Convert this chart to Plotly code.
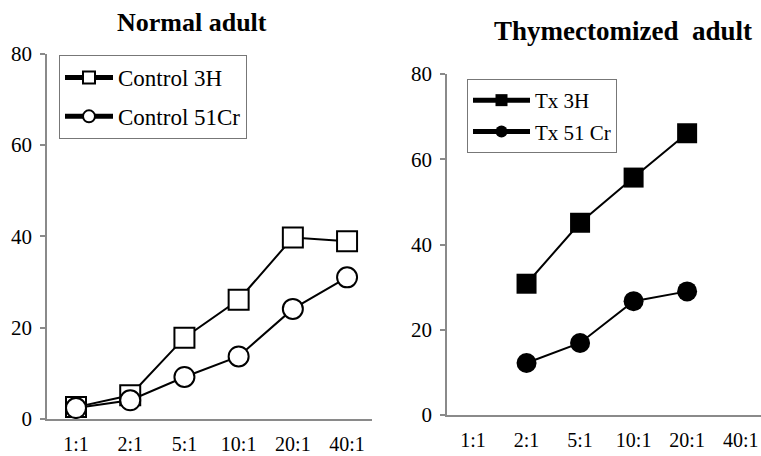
import plotly.graph_objects as go

ratios = ["1:1", "2:1", "5:1", "10:1", "20:1", "40:1"]

control_3h = [2.6, 5.2, 17.8, 26.1, 39.7, 38.9]
control_51cr = [2.4, 4.1, 9.2, 13.7, 24.1, 31.0]

tx_ratios = ["2:1", "5:1", "10:1", "20:1"]
tx_3h = [30.8, 45.1, 55.7, 66.1]
tx_51cr = [12.2, 16.9, 26.7, 29.0]

yticks = [0, 20, 40, 60, 80]

FONT = "Liberation Serif"
AX = "#8a8a8a"

xpos = list(range(len(ratios)))
tx_pos = [ratios.index(r) for r in tx_ratios]

fig = go.Figure()

fig.add_trace(go.Scatter(
    x=xpos, y=control_3h, name="Control 3H", mode="lines+markers",
    line=dict(color="black", width=2),
    marker=dict(symbol="square", size=20, color="white", line=dict(color="black", width=2)),
    xaxis="x", yaxis="y", legend="legend", legendgroup="a"))
fig.add_trace(go.Scatter(
    x=xpos, y=control_51cr, name="Control 51Cr", mode="lines+markers",
    line=dict(color="black", width=2),
    marker=dict(symbol="circle", size=20, color="white", line=dict(color="black", width=2)),
    xaxis="x", yaxis="y", legend="legend", legendgroup="b"))
fig.add_trace(go.Scatter(
    x=tx_pos, y=tx_3h, name="Tx 3H", mode="lines+markers",
    line=dict(color="black", width=2),
    marker=dict(symbol="square", size=20, color="black"),
    xaxis="x2", yaxis="y2", legend="legend2", legendgroup="c"))
fig.add_trace(go.Scatter(
    x=tx_pos, y=tx_51cr, name="Tx 51 Cr", mode="lines+markers",
    line=dict(color="black", width=2),
    marker=dict(symbol="circle", size=20, color="black"),
    xaxis="x2", yaxis="y2", legend="legend2", legendgroup="d"))

xcommon = dict(tickmode="array", tickvals=xpos, ticktext=ratios, showline=True,
               linecolor=AX, linewidth=1.5, ticks="", showgrid=False, zeroline=False,
               automargin=False,
               ticklabelstandoff=6, tickfont=dict(family=FONT, size=20, color="black"))
ycommon = dict(range=[0, 80], tickvals=yticks, showline=True, linecolor=AX, linewidth=1.5,
               ticks="outside", ticklen=5, tickcolor=AX, tickwidth=1.5, showgrid=False,
               zeroline=False, ticklabelstandoff=4, automargin=False,
               tickfont=dict(family=FONT, size=21, color="black"))

legcommon = dict(bordercolor="#777", borderwidth=1, bgcolor="white",
                 xanchor="left", yanchor="top", itemsizing="constant")

fig.update_layout(
    width=761, height=456, autosize=False,
    margin=dict(l=0, r=0, t=0, b=0, pad=0, autoexpand=False),
    paper_bgcolor="white", plot_bgcolor="white",
    xaxis=dict(domain=[47/761, 372/761], range=[-0.535, 5.46], anchor="y", **xcommon),
    yaxis=dict(domain=[1-419/456, 1-53.5/456], anchor="x", **ycommon),
    xaxis2=dict(domain=[447/761, 1.0], range=[-0.486, 5.38], anchor="y2", **xcommon),
    yaxis2=dict(domain=[1-415/456, 1-74/456], anchor="x2", **ycommon),
    legend=dict(x=59/761, y=1-55/456, font=dict(family=FONT, size=23, color="black"),
                tracegroupgap=6, itemwidth=48, **legcommon),
    legend2=dict(x=467/761, y=1-79/456, font=dict(family=FONT, size=21, color="black"),
                 tracegroupgap=1, itemwidth=57, **legcommon),
    showlegend=True,
    annotations=[
        dict(text="<b>Normal adult</b>", x=192/761, y=1-23/456, xref="paper", yref="paper",
             xanchor="center", yanchor="middle", showarrow=False,
             font=dict(family=FONT, size=26, color="black")),
        dict(text="<b>Thymectomized  adult</b>", x=623/761, y=1-31/456, xref="paper", yref="paper",
             xanchor="center", yanchor="middle", showarrow=False,
             font=dict(family=FONT, size=27, color="black")),
    ],
)

fig.write_html("out.html", config={"displayModeBar": False})

with open("out.html", "r", encoding="utf-8") as f:
    html = f.read()
html = html.replace("<head>", "<head><style>html,body{margin:0;padding:0;overflow:hidden;}</style>", 1)
with open("out.html", "w", encoding="utf-8") as f:
    f.write(html)
